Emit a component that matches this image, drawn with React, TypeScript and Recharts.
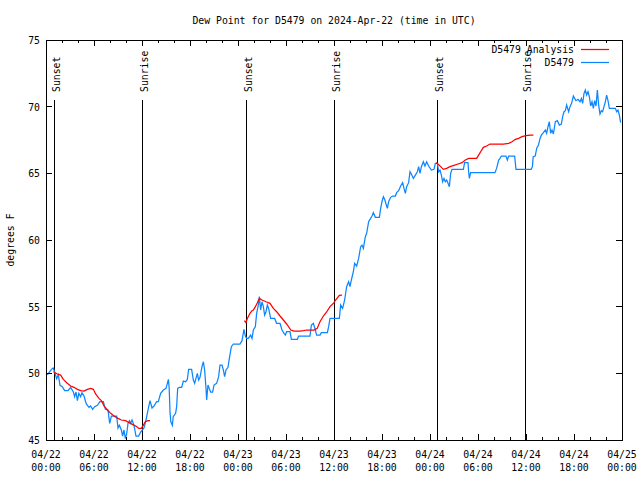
import React from 'react';
import { LineChart, Line, XAxis, YAxis, ReferenceLine, ReferenceArea } from 'recharts';

// ---------- data ----------
const chartTitle = 'Dew Point for D5479 on 2024-Apr-22 (time in UTC)';
const yAxisTitle = 'degrees F';

const stationName = 'D5479';
const analysisName = 'D5479 Analysis';

// [hours since 04/22 00:00 UTC, dew point °F]
const stationSeries: [number, number][] = [
  [0.17, 49.88], [0.67, 50.3], [0.9, 50.4], [1.08, 50.1], [1.33, 49.6], [1.54, 49.9], [1.75, 49.1], [2.04, 49.0],
  [2.33, 48.7], [2.75, 48.7], [3.08, 48.95], [3.42, 48.6], [3.58, 48.25], [3.75, 48.6], [3.92, 47.95], [4.1, 48.5],
  [4.33, 48.25], [4.5, 48.55], [4.75, 48.3], [5.04, 47.7], [5.38, 47.45], [5.58, 47.55], [5.83, 47.3], [6.08, 47.5],
  [6.42, 47.6], [6.75, 47.87], [7.17, 47.87], [7.42, 47.3], [7.75, 47.25], [7.96, 46.25], [8.17, 46.8], [8.83, 46.8],
  [9.0, 45.9], [9.17, 46.1], [9.42, 45.75], [9.58, 45.3], [9.75, 45.75], [9.92, 45.1], [10.08, 45.45], [10.25, 46.25],
  [10.42, 46.45], [10.58, 46.25], [10.75, 46.5], [11.0, 46.1], [11.25, 45.3], [11.58, 45.3], [11.83, 45.6], [12.25, 45.9],
  [12.5, 46.5], [12.75, 47.25], [13.0, 47.95], [13.25, 47.4], [13.5, 47.55], [13.83, 47.87], [14.04, 47.87], [14.33, 48.5],
  [14.67, 48.75], [15.0, 48.87], [15.17, 49.25], [15.3, 49.55], [15.4, 48.87], [15.5, 47.1], [15.6, 46.37], [15.8, 46.1],
  [15.9, 46.75], [16.2, 47.0], [16.33, 47.5], [16.46, 48.87], [16.67, 48.95], [16.96, 48.95], [17.17, 49.42], [17.46, 49.37],
  [17.67, 49.55], [17.83, 50.3], [18.2, 50.3], [18.42, 49.5], [18.58, 49.25], [18.75, 49.62], [18.92, 50.0], [19.08, 49.5],
  [19.25, 49.7], [19.5, 50.5], [19.67, 50.87], [19.83, 50.25], [20.0, 48.87], [20.08, 48.0], [20.25, 49.12], [20.4, 48.87],
  [20.58, 48.6], [20.83, 48.6], [21.0, 49.12], [21.33, 49.25], [21.58, 49.75], [21.75, 50.62], [22.0, 50.62], [22.17, 50.25],
  [22.33, 49.75], [22.5, 50.25], [22.75, 50.45], [22.92, 51.12], [23.17, 52.0], [23.42, 52.2], [24.25, 52.2], [24.5, 52.45],
  [24.75, 53.3], [24.92, 52.8], [25.08, 52.62], [25.3, 52.62], [25.58, 52.87], [25.75, 52.62], [25.92, 53.25], [26.17, 53.5],
  [26.33, 54.5], [26.54, 55.12], [26.67, 55.75], [26.83, 54.75], [27.0, 55.37], [27.17, 55.0], [27.33, 54.37], [27.5, 54.62],
  [27.67, 55.12], [27.83, 54.87], [28.08, 54.12], [28.58, 54.12], [28.83, 53.75], [29.25, 53.75], [29.5, 53.25], [29.75, 53.0],
  [29.92, 52.87], [30.08, 53.12], [30.5, 53.12], [30.67, 52.55], [31.42, 52.55], [31.58, 52.8], [33.0, 52.8], [33.17, 53.62],
  [33.42, 53.75], [33.67, 53.25], [33.83, 52.87], [34.25, 52.87], [34.42, 53.05], [35.17, 53.05], [35.33, 53.5], [35.5, 54.12],
  [36.67, 54.12], [36.83, 55.12], [37.08, 54.87], [37.33, 55.5], [37.58, 56.5], [37.83, 56.87], [38.0, 56.5], [38.17, 57.0],
  [38.42, 57.62], [38.58, 58.25], [38.83, 58.05], [39.08, 58.62], [39.33, 59.5], [39.5, 59.62], [39.67, 59.37], [39.92, 60.25],
  [40.08, 60.5], [40.33, 61.37], [40.5, 61.55], [40.75, 61.8], [40.92, 62.05], [41.17, 61.7], [41.67, 61.7], [41.83, 62.37],
  [42.0, 62.87], [42.17, 63.25], [42.33, 63.05], [42.5, 62.7], [42.67, 62.37], [42.83, 62.87], [43.08, 63.2], [43.33, 63.3],
  [43.67, 63.3], [43.83, 63.55], [44.08, 63.7], [44.33, 64.05], [44.58, 64.3], [44.75, 63.87], [44.92, 63.5], [45.08, 64.0],
  [45.33, 64.3], [45.5, 65.12], [45.67, 64.95], [45.92, 64.62], [46.17, 64.87], [46.42, 65.12], [46.58, 65.5], [46.75, 65.0],
  [46.92, 65.5], [47.17, 65.87], [47.37, 65.55], [47.58, 65.87], [47.83, 65.55], [48.17, 65.25], [48.5, 65.3], [48.67, 65.75],
  [48.92, 65.75], [49.08, 65.12], [49.25, 65.25], [49.42, 64.87], [49.58, 64.37], [49.75, 64.62], [49.92, 64.37], [50.08, 64.5],
  [50.25, 64.25], [50.42, 64.0], [50.58, 65.0], [50.75, 65.3], [52.17, 65.3], [52.33, 65.8], [52.75, 65.8], [52.83, 65.12],
  [52.92, 64.62], [53.08, 65.05], [56.12, 65.05], [56.33, 65.37], [56.58, 66.0], [56.75, 66.12], [56.92, 66.3], [57.5, 66.3],
  [57.67, 66.0], [57.83, 66.3], [58.58, 66.3], [58.75, 65.3], [60.65, 65.3], [60.8, 65.5], [60.9, 66.25], [61.15, 66.3],
  [61.35, 66.9], [61.55, 67.1], [61.75, 67.6], [61.92, 67.87], [62.17, 68.05], [62.42, 68.25], [62.58, 68.0], [62.75, 68.5],
  [62.92, 68.87], [63.08, 68.0], [63.25, 68.25], [63.42, 67.95], [63.67, 68.87], [63.92, 68.95], [64.17, 68.62], [64.42, 68.7],
  [64.58, 69.25], [64.75, 69.62], [64.92, 69.7], [65.08, 70.12], [65.33, 69.62], [65.5, 70.0], [65.7, 70.25], [65.92, 70.8],
  [66.08, 70.62], [66.25, 70.45], [66.5, 70.55], [66.75, 70.37], [66.92, 70.62], [67.08, 70.25], [67.25, 71.0], [67.42, 71.25],
  [67.58, 70.87], [67.75, 71.12], [67.92, 70.75], [68.08, 70.05], [68.25, 70.37], [68.42, 69.87], [68.58, 70.45], [68.75, 70.05],
  [68.92, 71.25], [69.08, 70.12], [69.25, 69.45], [69.42, 69.7], [69.58, 69.62], [69.75, 70.0], [69.92, 70.37], [70.08, 70.87],
  [70.25, 70.45], [70.42, 69.87], [71.17, 69.87], [71.33, 69.62], [71.5, 69.75], [71.67, 69.37], [71.83, 68.8],
];

const analysisNight1: [number, number][] = [
  [0.92, 50.12], [1.42, 49.95], [1.83, 49.87], [2.17, 49.55], [2.58, 49.3], [3.08, 49.05], [3.5, 48.95], [3.92, 48.8],
  [4.33, 48.7], [4.75, 48.67], [5.17, 48.8], [5.58, 48.87], [5.92, 48.8], [6.2, 48.45], [6.62, 48.12], [6.92, 47.95],
  [7.25, 47.55], [7.67, 47.25], [8.08, 47.0], [8.5, 46.8], [9.0, 46.62], [9.42, 46.5], [9.96, 46.45], [10.37, 46.3],
  [10.79, 46.17], [11.21, 46.05], [11.62, 45.87], [11.92, 45.87], [12.17, 46.12], [12.42, 46.37], [12.75, 46.45], [13.0, 46.45],
];
const analysisNight2: [number, number][] = [
  [24.8, 53.95], [25.0, 53.8], [25.17, 54.12], [25.5, 54.5], [25.75, 54.7], [25.92, 54.75], [26.17, 55.0], [26.42, 55.3],
  [26.67, 55.62], [27.0, 55.5], [27.5, 55.37], [28.0, 55.25], [28.42, 54.87], [28.83, 54.62], [29.25, 54.3], [29.67, 54.0],
  [30.08, 53.7], [30.6, 53.25], [31.0, 53.17], [31.75, 53.17], [32.2, 53.2], [32.6, 53.25], [33.5, 53.25], [33.9, 53.37],
  [34.25, 53.87], [34.67, 54.3], [35.08, 54.6], [35.5, 55.0], [36.0, 55.3], [36.2, 55.5], [36.67, 55.85], [37.0, 55.87],
];
const analysisNight3: [number, number][] = [
  [48.75, 65.8], [49.0, 65.7], [49.33, 65.5], [49.67, 65.3], [50.08, 65.37], [50.5, 65.5], [51.0, 65.6], [51.5, 65.7],
  [52.0, 65.8], [52.42, 66.0], [52.83, 66.12], [53.83, 66.12], [54.08, 66.37], [54.33, 66.62], [54.67, 66.95], [55.08, 67.05],
  [55.5, 67.2], [57.17, 67.2], [57.83, 67.25], [58.25, 67.37], [58.67, 67.55], [59.08, 67.62], [59.5, 67.75], [60.0, 67.82],
  [60.5, 67.87], [60.92, 67.87],
];

const sunEventHours = [1.05, 12.03, 25.0, 36.08, 48.92, 59.96];
const sunEventLabels = ['Sunset', 'Sunrise', 'Sunset', 'Sunrise', 'Sunset', 'Sunrise'];

const xTickHours = [0, 2, 4, 6, 8, 10, 12, 14, 16, 18, 20, 22, 24, 26, 28, 30, 32, 34, 36, 38, 40, 42, 44, 46, 48, 50, 52, 54, 56, 58, 60, 62, 64, 66, 68, 70, 72];
const xMajorHours = [0, 6, 12, 18, 24, 30, 36, 42, 48, 54, 60, 66, 72];
const xMajorDates = ['04/22', '04/22', '04/22', '04/22', '04/23', '04/23', '04/23', '04/23', '04/24', '04/24', '04/24', '04/24', '04/25'];
const xMajorTimes = ['00:00', '06:00', '12:00', '18:00', '00:00', '06:00', '12:00', '18:00', '00:00', '06:00', '12:00', '18:00', '00:00'];
const yTicks = [45, 50, 55, 60, 65, 70, 75];

// ---------- styles ----------
const W = 640;
const H = 480;
const PLOT_L = 46;
const PLOT_T = 40;
const PLOT_R = 622;
const PLOT_B = 440;
const PLOT_W = PLOT_R - PLOT_L;
const PLOT_H = PLOT_B - PLOT_T;
const FONT = '"DejaVu Sans Mono", "Liberation Mono", monospace';
const FS = 9.8;
const BLUE = '#0c86ff';
const RED = '#ff0000';
const SERIES_W = 1.25;
const SUN_LINE_TOP = 70.5;

const toRows = (arr: [number, number][]) => arr.map(([h, v]) => ({ h, v }));

const XTick = (props: any) => {
  const { x, y, payload } = props;
  const idx = xMajorHours.indexOf(payload.value);
  const major = idx >= 0;
  const len = major ? 6 : 3;
  return (
    <g>
      <line x1={x} x2={x} y1={y} y2={y - len} stroke="#000" shapeRendering="crispEdges" />
      <line x1={x} x2={x} y1={y - PLOT_H} y2={y - PLOT_H + len} stroke="#000" shapeRendering="crispEdges" />
      {major && (
        <text x={x} y={y + 18} textAnchor="middle" fontFamily={FONT} fontSize={FS} fill="#000">
          {xMajorDates[idx]}
        </text>
      )}
      {major && (
        <text x={x} y={y + 31} textAnchor="middle" fontFamily={FONT} fontSize={FS} fill="#000">
          {xMajorTimes[idx]}
        </text>
      )}
    </g>
  );
};

const YTick = (props: any) => {
  const { x, y, payload } = props;
  return (
    <g>
      <line x1={x} x2={x + 6} y1={y} y2={y} stroke="#000" shapeRendering="crispEdges" />
      <line x1={x + PLOT_W} x2={x + PLOT_W - 6} y1={y} y2={y} stroke="#000" shapeRendering="crispEdges" />
      <text x={x - 6} y={y + 4} textAnchor="end" fontFamily={FONT} fontSize={FS} fill="#000">
        {payload.value}
      </text>
    </g>
  );
};

const SunLabel = (props: any) => {
  const { viewBox, text } = props;
  if (!viewBox) return null;
  const x = viewBox.x + 5.5;
  const y = viewBox.y - 8;
  return (
    <text x={x} y={y} transform={`rotate(-90 ${x} ${y})`} fontFamily={FONT} fontSize={FS} fill="#000">
      {text}
    </text>
  );
};

export default function App() {
  const legendItems = [
    { name: analysisName, color: RED },
    { name: stationName, color: BLUE },
  ];
  return (
    <div style={{ position: 'absolute', left: 0, top: 0, width: W, height: H, background: '#fff' }}>
      <LineChart
        width={W}
        height={H}
        margin={{ top: PLOT_T, right: W - PLOT_R, bottom: 0, left: 0 }}
      >
        <XAxis
          dataKey="h"
          type="number"
          domain={[0, 72]}
          ticks={xTickHours}
          interval={0}
          allowDataOverflow
          axisLine={false}
          tickLine={false}
          tickSize={0}
          tickMargin={0}
          height={H - PLOT_B}
          tick={(p: any) => <XTick {...p} />}
        />
        <YAxis
          type="number"
          domain={[45, 75]}
          ticks={yTicks}
          interval={0}
          allowDataOverflow
          axisLine={false}
          tickLine={false}
          tickSize={0}
          tickMargin={0}
          width={PLOT_L}
          tick={(p: any) => <YTick {...p} />}
        />
        <ReferenceArea x1={0} x2={72} y1={45} y2={75} fill="none" stroke="#000" strokeWidth={1} fillOpacity={0} shapeRendering="crispEdges" />
        {sunEventHours.map((h, i) => (
          <ReferenceLine
            key={'sun' + i}
            segment={[{ x: h, y: SUN_LINE_TOP }, { x: h, y: 45 }]}
            stroke="#000"
            strokeWidth={1}
            shapeRendering="crispEdges"
            label={<SunLabel text={sunEventLabels[i]} />}
          />
        ))}
        <Line data={toRows(stationSeries)} dataKey="v" name={stationName} stroke={BLUE} strokeWidth={SERIES_W} dot={false} isAnimationActive={false} type="linear" />
        <Line data={toRows(analysisNight1)} dataKey="v" name={analysisName} stroke={RED} strokeWidth={SERIES_W} dot={false} isAnimationActive={false} type="linear" />
        <Line data={toRows(analysisNight2)} dataKey="v" name={analysisName + ' 2'} stroke={RED} strokeWidth={SERIES_W} dot={false} isAnimationActive={false} type="linear" />
        <Line data={toRows(analysisNight3)} dataKey="v" name={analysisName + ' 3'} stroke={RED} strokeWidth={SERIES_W} dot={false} isAnimationActive={false} type="linear" />
      </LineChart>
      <svg width={W} height={H} style={{ position: 'absolute', left: 0, top: 0, pointerEvents: 'none' }}>
        <text x={(PLOT_L + PLOT_R) / 2} y={24} textAnchor="middle" fontFamily={FONT} fontSize={FS} fill="#000">
          {chartTitle}
        </text>
        <text x={14} y={240} transform="rotate(-90 14 240)" textAnchor="middle" fontFamily={FONT} fontSize={FS} fill="#000">
          {yAxisTitle}
        </text>
        {legendItems.map((it, i) => (
          <g key={it.name}>
            <text x={574} y={53 + i * 13} textAnchor="end" fontFamily={FONT} fontSize={FS} fill="#000">
              {it.name}
            </text>
            <line x1={581} x2={609} y1={49.5 + i * 13} y2={49.5 + i * 13} stroke={it.color} strokeWidth={1.25} />
          </g>
        ))}
      </svg>
    </div>
  );
}
